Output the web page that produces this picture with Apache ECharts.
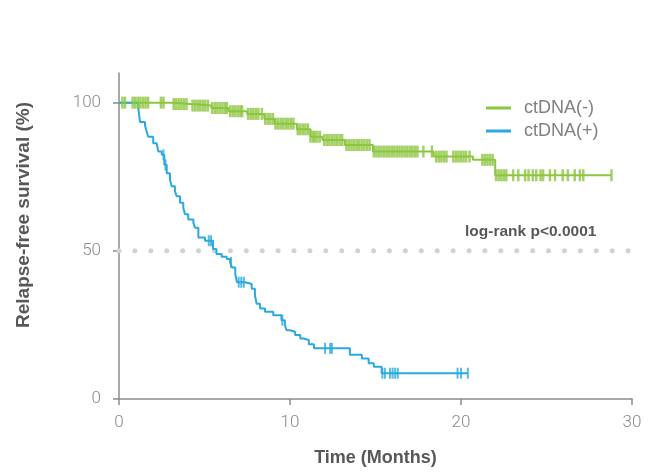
<!DOCTYPE html>
<html>
<head>
<meta charset="utf-8">
<script src="https://cdn.jsdelivr.net/npm/echarts@6/dist/echarts.min.js"></script>
<style>
html,body{margin:0;padding:0;background:#fff;}
#chart{width:649px;height:472px;}
</style>
</head>
<body>
<div id="chart"></div>
<script>
// ---- Data ----
const seriesNames = ['ctDNA(-)', 'ctDNA(+)'];
const xTicks = [0, 10, 20, 30];
const yTicks = [0, 50, 100];
const refLevel = 50;
const annotation = 'log-rank p<0.0001';

// Kaplan-Meier steps: [time (months), survival % after the drop]
const negSteps = [
  [0,100],[3.2,99.5],[4.2,99],[5.4,98.2],[6.4,97.1],[7.5,96.2],[8.5,94.5],[9.1,92.9],
  [10.4,91.0],[11.2,88.5],[11.9,87.4],[13.2,85.7],[14.85,83.5],[18.4,81.8],[20.7,80.7],
  [22.0,75.5],[28.8,75.5]
];
const posSteps = [
  [0,100],[1.13,98],[1.23,93.5],[1.52,92.4],[1.62,90.2],[1.71,88.5],[2.0,86.3],[2.2,85.7],
  [2.3,83.5],[2.5,82.4],[2.65,79],[2.79,76.2],[2.98,74],[3.08,71.8],[3.27,70.1],[3.37,68.4],
  [3.57,66.2],[3.76,64.5],[3.86,62.3],[4.05,60.6],[4.35,59.5],[4.44,57.8],[4.64,54.5],
  [5.03,53.4],[5.5,50.6],[5.7,48.9],[6.0,48.0],[6.3,47.2],[6.5,46.1],[6.6,44.4],[6.8,42.2],
  [6.9,39.4],[7.37,38.8],[7.76,37.2],[7.95,35],[8.05,32.1],[8.25,30.5],[8.54,29.4],
  [9.02,28.3],[9.5,26.6],[9.7,24.9],[9.8,23.2],[10.0,22.7],[10.3,21.6],[10.6,20.4],
  [10.8,19.9],[11.1,18.5],[11.4,17.1],[13.5,14.9],[14.2,13.7],[14.6,12.1],[14.9,10.9],
  [15.36,8.7],[20.4,8.7]
];

// Censoring times (months)
const negCensor = [
  0.2,0.35,
  0.8,0.95,1.1,1.25,1.4,1.55,1.7,
  2.45,2.6,
  3.2,3.35,3.5,3.65,3.8,3.95,
  4.3,4.45,4.6,4.75,4.9,5.05,5.2,
  5.45,5.6,5.75,5.9,6.05,6.2,6.3,
  6.5,6.65,6.8,6.95,7.1,7.2,
  7.55,7.7,7.85,8.0,8.15,8.35,
  8.55,8.7,8.85,9.0,
  9.15,9.3,9.45,9.6,9.75,9.9,10.05,10.2,
  10.45,10.6,10.75,10.9,11.05,11.2,11.35,
  11.45,11.6,11.75,
  12.0,12.15,12.3,12.45,12.6,12.75,12.9,13.05,
  13.3,13.45,13.6,13.75,13.9,14.05,14.2,14.35,14.5,14.65,
  14.9,15.05,15.2,15.35,15.5,15.65,15.8,15.95,16.1,16.25,16.4,16.55,16.7,16.85,17.0,17.15,17.3,17.45,
  17.8,18.3,
  18.55,18.7,18.85,19.0,19.15,
  19.55,19.7,19.85,20.0,20.15,20.3,20.5,
  21.25,21.4,21.55,21.7,21.85,
  22.05,22.2,22.35,22.5,22.65,
  23.05,23.35,
  23.75,23.95,24.2,24.4,24.65,24.8,
  25.2,25.5,25.95,26.25,26.65,26.95,27.15,
  28.8
];
const posCensor = [
  2.6,2.72,5.25,5.38,6.55,7.0,7.15,7.3,9.55,
  12.05,12.35,12.45,15.4,15.55,15.85,16.0,16.15,16.3,19.8,20.0,20.4
];

const colors = { neg: '#8cc63f', pos: '#29a9e0' };

// survival at time t from a step table
function survAt(steps, t) {
  let s = steps[0][1];
  for (const [ti, si] of steps) { if (ti <= t) s = si; else break; }
  return s;
}
const negCensorPts = negCensor.map(t => [t, survAt(negSteps, t)]);
const posCensorPts = posCensor.map(t => [t, survAt(posSteps, t)]);

const tickFont = { color: '#8a8a8a', fontSize: 17, fontFamily: 'Roboto', fontWeight: 300 };
const titleFont = { color: '#585858', fontSize: 18, fontFamily: 'Liberation Sans', fontWeight: 'bold' };
const axisLine = { show: true, lineStyle: { color: '#8c8c8c', width: 1.5 } };

const chart = echarts.init(document.getElementById('chart'), null, { renderer: 'canvas' });
chart.setOption({
  animation: false,
  backgroundColor: '#fff',
  grid: { left: 119, right: 17, top: 73, bottom: 69, containLabel: false },
  legend: {
    data: seriesNames,
    orient: 'vertical',
    left: 486, top: 99,
    padding: 0,
    itemWidth: 25, itemHeight: 3, itemGap: 5,
    icon: 'rect',
    textStyle: { color: '#808080', fontSize: 18, fontFamily: 'Liberation Sans', lineHeight: 18, padding: [0, 0, 0, 8] }
  },
  xAxis: {
    type: 'value', min: 0, max: 30, interval: 10,
    name: 'Time (Months)', nameLocation: 'middle', nameGap: 50,
    nameTextStyle: titleFont,
    axisLine: axisLine,
    axisTick: { show: true, length: 6, lineStyle: { color: '#8c8c8c', width: 1.5 }, customValues: xTicks },
    axisLabel: Object.assign({ margin: 15, customValues: xTicks }, tickFont),
    splitLine: { show: false }
  },
  yAxis: {
    type: 'value', min: 0, max: 110,
    name: 'Relapse-free survival (%)', nameLocation: 'middle', nameGap: 86, nameRotate: 90,
    nameTextStyle: Object.assign({}, titleFont, { fontSize: 19, padding: [0, 0, 0, 42] }),
    axisLine: axisLine,
    axisTick: { show: true, length: 6, lineStyle: { color: '#8c8c8c', width: 1.5 }, customValues: yTicks },
    axisLabel: Object.assign({ margin: 18, customValues: yTicks }, tickFont),
    splitLine: { show: false }
  },
  graphic: [{
    type: 'text', left: 465, top: 224,
    style: { text: annotation, fill: '#585858', font: 'bold 15.5px "Liberation Sans"' }
  }],
  series: [
    {
      name: 'ref', type: 'line', silent: true, symbol: 'none',
      data: [[0, refLevel], [30, refLevel]],
      lineStyle: { color: '#d2d2d2', width: 5, type: [0.01, 15.9], cap: 'round' },
      z: 1
    },
    {
      name: seriesNames[0], type: 'line', step: 'end', symbol: 'none',
      data: negSteps, color: colors.neg,
      lineStyle: { color: colors.neg, width: 2 }, z: 2
    },
    {
      name: seriesNames[1], type: 'line', step: 'end', symbol: 'none',
      data: posSteps, color: colors.pos,
      lineStyle: { color: colors.pos, width: 2 }, z: 3
    },
    {
      name: 'posCensor', type: 'scatter', symbol: 'rect', symbolSize: [2, 11],
      data: posCensorPts, itemStyle: { color: colors.pos }, z: 4
    },
    {
      name: 'negCensor', type: 'scatter', symbol: 'rect', symbolSize: [2.5, 12],
      data: negCensorPts, itemStyle: { color: colors.neg }, z: 5
    }
  ]
});
</script>
</body>
</html>
